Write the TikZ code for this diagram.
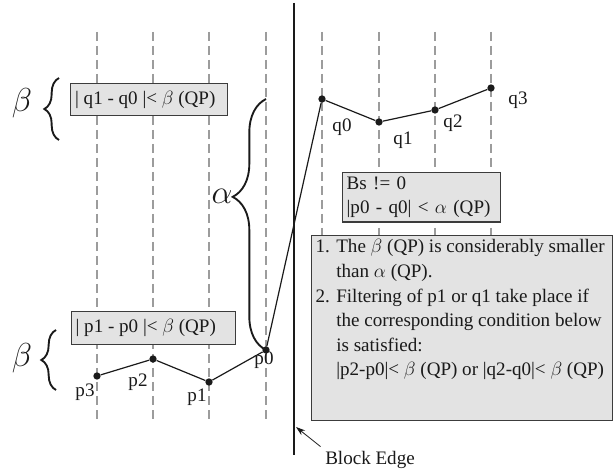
\documentclass[tikz,border=0pt]{standalone}
\usepackage{fontspec}
\setmainfont{Liberation Serif}
\usepackage{tikz}
\usetikzlibrary{arrows.meta,decorations.pathreplacing}
\definecolor{gridgray}{HTML}{9C9C9C}
\definecolor{boxfill}{HTML}{E3E3E3}
\definecolor{boxline}{HTML}{3C3C3C}
\definecolor{ink}{HTML}{1A1A1A}
\tikzset{
  dot/.style={circle,fill=ink,inner sep=0pt,minimum size=5.5pt},
  seg/.style={ink,line width=0.9pt},
  cond/.style={draw=boxline,fill=boxfill,line width=1pt,anchor=north west,align=left,inner xsep=3pt,inner ysep=3pt},
  curly/.style={ink,line width=1.4pt,decorate},
  biggreek/.style={font=\fontsize{23}{27}\selectfont},
}
\begin{document}
\begin{tikzpicture}[x=0.75pt,y=-0.75pt,font=\fontsize{14.3}{18.4}\selectfont,text=ink]
\useasboundingbox (0,0) rectangle (613,473);
\foreach \x in {97,153,209,266,322,379,435,491} {\draw[gridgray,line width=1pt,dash pattern=on 6.5pt off 4pt] (\x,32) -- (\x,423);}
\coordinate (edgetop) at (294,3);
\coordinate (edgebot) at (294,455);
\draw[ink,line width=2pt] (edgetop) -- (edgebot);
\foreach \n/\x/\y in {p0/266/350,p1/209/382,p2/153/359,p3/97/376,q0/322/99,q1/379/122,q2/435/110,q3/491/88} {\node[dot] (\n) at (\x,\y) {};}
\draw[seg] (p3) -- (p2) -- (p1) -- (p0) -- (q0) -- (q1) -- (q2) -- (q3);
\foreach \n/\x/\y in {p0/264/360,p1/197/397,p2/138/382,p3/85/392,q0/342/127,q1/403/140,q2/453/123,q3/518/100} {\node (\n lbl) at (\x,\y) {\n};}
\coordinate (alphatop) at (266,99);
\draw[curly,decoration={brace,amplitude=25pt,aspect=0.61}] (p0.center) -- (alphatop);
\node[biggreek] (alphalbl) at (222,196) {$\alpha$};
\coordinate (btopA) at (59,140);
\coordinate (btopB) at (59,78);
\draw[curly,decoration={brace,amplitude=11pt}] (btopA) -- (btopB);
\node[biggreek] (betatop) at (22,103) {$\beta$};
\coordinate (bbotA) at (56,390);
\coordinate (bbotB) at (56,330);
\draw[curly,decoration={brace,amplitude=11pt}] (bbotA) -- (bbotB);
\node[biggreek] (betabot) at (22,358) {$\beta$};
\node[cond,minimum width=117.75pt,minimum height=24pt] (qcond) at (70,83) {\makebox[111pt][l]{| q1 - q0 |< $\beta$ (QP)}};
\node[cond,minimum width=123pt,minimum height=24.75pt] (pcond) at (71,311) {\makebox[117pt][l]{| p1 - p0 |< $\beta$ (QP)}};
\node[cond,minimum width=118.5pt,minimum height=36pt,text width=112.5pt] (bscond) at (342,172) {Bs != 0\\|p0 - q0| < $\alpha$ (QP)};
\node[cond,inner sep=3pt] (notes) at (311,235) {\begin{minipage}[t][132.75pt][t]{219.75pt}
1. The $\beta$ (QP) is considerably smaller\\
\hphantom{1. }than $\alpha$ (QP).\\
2. Filtering of p1 or q1 take place if\\
\hphantom{2. }the corresponding condition below\\
\hphantom{2. }is satisfied:\\
\hphantom{2. }|p2-p0|< $\beta$ (QP) or |q2-q0|< $\beta$ (QP)
\end{minipage}};
\coordinate (edgehit) at (296,427);
\node (edgelbl) at (370,460) {Block Edge};
\draw[ink,line width=0.6pt,-{Stealth[length=7pt,width=4.5pt]}] (edgelbl.north west) -- (edgehit);
\end{tikzpicture}
\end{document}
